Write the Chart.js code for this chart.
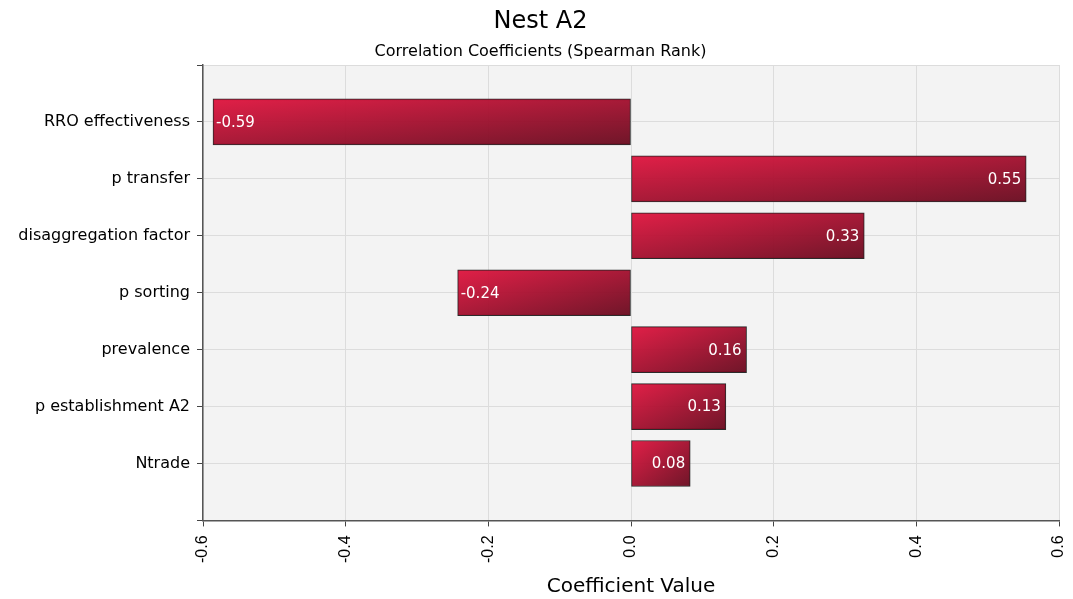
<!DOCTYPE html>
<html>
<head>
<meta charset="utf-8">
<script src="https://cdn.jsdelivr.net/npm/chart.js@4.4.1/dist/chart.umd.min.js"></script>
<style>
  html, body { margin: 0; padding: 0; background: #fff; }
  #wrap { width: 1073px; height: 599px; }
</style>
</head>
<body>
<div id="wrap"><canvas id="chart"></canvas></div>
<script>
// data
const categories = ['RRO effectiveness', 'p transfer', 'disaggregation factor', 'p sorting', 'prevalence', 'p establishment A2', 'Ntrade'];
const coefficients = [-0.586, 0.554, 0.327, -0.243, 0.162, 0.133, 0.083];
const xTicks = [-0.6, -0.4, -0.2, 0.0, 0.2, 0.4, 0.6];

const labelFont = "'DejaVu Sans', Tahoma, sans-serif";
const BAR_H = 46;

// light grey plot area
const plotBackground = {
    id: 'plotBackground',
    beforeDraw(chart) {
        const { ctx, chartArea: a } = chart;
        ctx.save();
        ctx.fillStyle = '#f3f3f3';
        ctx.fillRect(a.left, a.top, a.right - a.left, a.bottom - a.top);
        ctx.restore();
    }
};

// gradient running top-left -> bottom-right of the bar's own box
function barFill(context) {
    const chart = context.chart;
    const { x, y } = chart.scales;
    if (!chart.chartArea || !context.parsed) return '#c8143a';
    const v = context.parsed.x;
    const px = x.getPixelForValue(v);
    const base = x.getPixelForValue(0);
    const left = Math.min(px, base);
    const w = Math.abs(px - base) || 1;
    const h = BAR_H;
    const top = y.getPixelForValue(context.parsed.y) - h / 2;
    const k = 2 * w * h / (w * w + h * h);
    const g = chart.ctx.createLinearGradient(left, top, left + h * k, top + w * k);
    g.addColorStop(0, 'rgba(224, 20, 62, 0.95)');
    g.addColorStop(1, 'rgba(104, 10, 30, 0.95)');
    return g;
}

// value labels inside the bar ends
const valueLabels = {
    id: 'valueLabels',
    afterDatasetsDraw(chart) {
        const { ctx } = chart;
        ctx.save();
        ctx.font = '15px ' + labelFont;
        ctx.fillStyle = '#ffffff';
        ctx.textBaseline = 'middle';
        chart.getDatasetMeta(0).data.forEach((bar, i) => {
            const v = coefficients[i];
            const txt = v.toFixed(2);
            if (v < 0) {
                ctx.textAlign = 'left';
                ctx.fillText(txt, bar.x + 3, bar.y + 1);
            } else {
                ctx.textAlign = 'right';
                ctx.fillText(txt, bar.x - 5, bar.y + 1);
            }
        });
        ctx.restore();
    }
};

new Chart(document.getElementById('chart'), {
    type: 'bar',
    data: {
        datasets: [{
            data: coefficients.map((v, i) => ({ x: v, y: i + 1 })),
            backgroundColor: barFill,
            borderColor: '#2b2b2b',
            borderWidth: 1,
            borderSkipped: false,
            barThickness: BAR_H
        }]
    },
    options: {
        indexAxis: 'y',
        responsive: true,
        maintainAspectRatio: false,
        animation: false,
        layout: { padding: { left: 8, right: 0, top: 0, bottom: 0 } },
        plugins: {
            legend: { display: false },
            tooltip: { enabled: false },
            title: {
                display: true,
                text: 'Nest A2',
                color: '#000',
                font: { family: labelFont, size: 24, weight: 'normal' },
                padding: { top: 7, bottom: 0 }
            },
            subtitle: {
                display: true,
                text: 'Correlation Coefficients (Spearman Rank)',
                color: '#000',
                font: { family: labelFont, size: 16, weight: 'normal' },
                padding: { top: 6, bottom: 4 }
            }
        },
        scales: {
            x: {
                type: 'linear',
                min: -0.6,
                max: 0.6,
                afterBuildTicks: scale => { scale.ticks = xTicks.map(v => ({ value: v })); },
                afterFit: scale => { scale.paddingRight = 14; },
                ticks: {
                    color: '#000',
                    font: { family: "'Liberation Sans', Arial, sans-serif", size: 16 },
                    minRotation: 90,
                    maxRotation: 90,
                    padding: 9,
                    callback: v => v.toFixed(1)
                },
                grid: { color: '#dcdcdc', tickColor: '#444', tickLength: 6 },
                border: { color: '#555', width: 1.5 },
                title: {
                    display: true,
                    text: 'Coefficient Value',
                    color: '#000',
                    font: { family: labelFont, size: 20 },
                    padding: { top: 3, bottom: 0 }
                }
            },
            y: {
                type: 'linear',
                min: 0,
                max: 8,
                reverse: true,
                offset: false,
                afterBuildTicks: scale => {
                    scale.ticks = [0, 1, 2, 3, 4, 5, 6, 7, 8].map(v => ({ value: v }));
                },
                afterFit: scale => { scale.width = 195; },
                ticks: {
                    color: '#000',
                    font: { family: labelFont, size: 16 },
                    padding: 7,
                    callback: v => categories[v - 1] || ''
                },
                grid: { offset: false, color: '#dcdcdc', tickColor: '#444', tickLength: 6 },
                border: { color: '#555', width: 1.5 }
            }
        }
    },
    plugins: [plotBackground, valueLabels]
});
</script>
</body>
</html>
